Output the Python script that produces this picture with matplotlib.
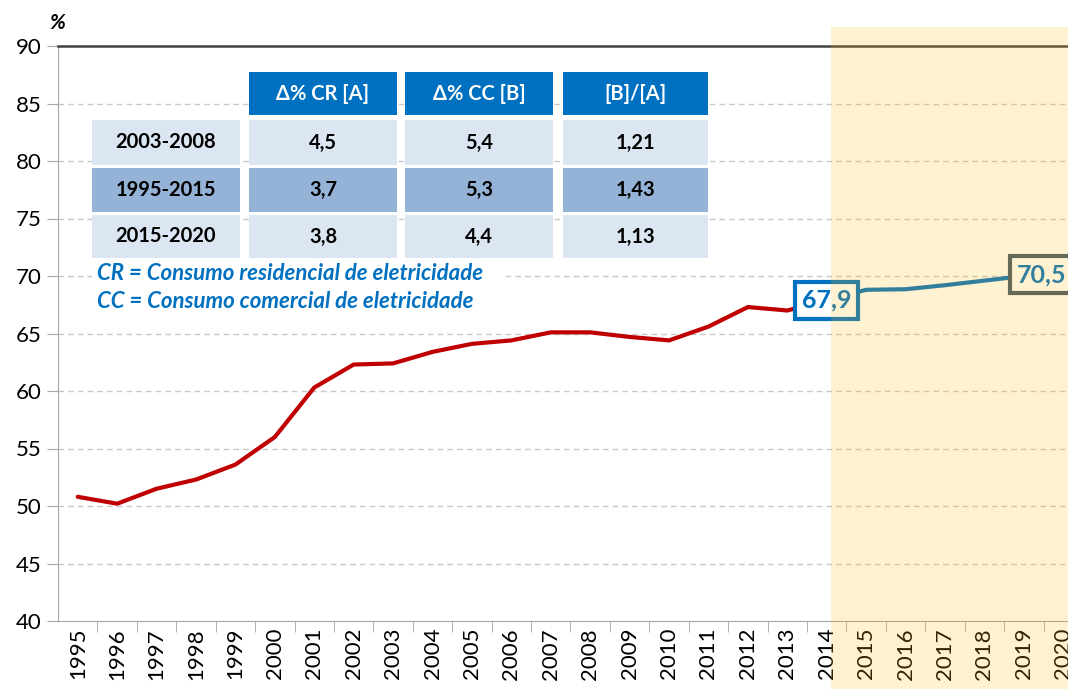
import numpy as np
import matplotlib
matplotlib.use('Agg')
import matplotlib.pyplot as plt
from matplotlib.patches import Rectangle

plt.rcParams['font.family'] = ['Lato', 'DejaVu Sans']

YEARS = [str(y) for y in range(1995, 2021)]
HIST = [50.8, 50.2, 51.5, 52.3, 53.6, 56.0, 60.3, 62.3, 62.4, 63.4, 64.1, 64.4,
        65.1, 65.1, 64.7, 64.4, 65.6, 67.3, 67.0, 67.9]          # 1995-2014
PROJ = [67.9, 68.8, 68.85, 69.2, 69.6, 70.0, 70.5]               # 2014-2020

TAB_HEAD = ['Δ% CR [A]', 'Δ% CC [B]', '[B]/[A]']
TAB_ROWS = ['2003-2008', '1995-2015', '2015-2020']
TAB_VALS = [['4,5', '5,4', '1,21'],
            ['3,7', '5,3', '1,43'],
            ['3,8', '4,4', '1,13']]
NOTES = ['CR = Consumo residencial de eletricidade',
         'CC = Consumo comercial de eletricidade']

W, H = 1068, 689
fig = plt.figure(figsize=(W / 100, H / 100), dpi=100, facecolor='white')
ax = fig.add_axes([58 / W, (H - 621) / H, (W - 58) / W, 575 / H])


def px(x, y):
    return x / W, 1 - y / H


def fmt(v):
    return f"{v:.1f}".replace('.', ',')


x_hist = np.arange(len(HIST))
x_proj = np.arange(len(HIST) - 1, len(HIST) - 1 + len(PROJ))

ax.plot(x_hist, HIST, color='#C00000', lw=3, zorder=3, solid_capstyle='round')
ax.plot(x_proj, PROJ, color='#0070C0', lw=3, zorder=3)

ax.set_yticks(np.arange(40, 91, 5))
ax.tick_params(axis='y', labelsize=16, length=8, color='#A6A6A6', pad=4)
ax.set_xticks(np.arange(len(YEARS)))
ax.set_xticklabels(YEARS, rotation=90)
ax.set_xticks(np.arange(len(YEARS)) + 0.5, minor=True)
ax.tick_params(axis='x', which='major', length=0, labelsize=16, pad=5)
ax.tick_params(axis='x', which='minor', length=8, color='#A6A6A6')
ax.set_xlim(-0.5, 25.12)
ax.set_ylim(40, 90)

for v in range(45, 90, 5):
    ax.axhline(v, color='#C8C8C8', lw=1, ls=(0, (4, 3)), zorder=1)

ax.spines['right'].set_visible(False)
ax.spines['left'].set_color('#A6A6A6')
ax.spines['bottom'].set_color('#A6A6A6')
ax.spines['top'].set_color('#404040')
ax.spines['top'].set_linewidth(1.8)

fig.text(*px(57, 23), '%', fontsize=15, fontweight='bold', style='italic',
         ha='center', va='center')

# value boxes
ax.text(x_hist[-1], HIST[-1], fmt(HIST[-1]),
        fontsize=18, fontweight='bold', color='#0070C0', ha='center', va='center', zorder=6,
        bbox=dict(boxstyle='square,pad=0.28', fc='white', ec='#0070C0', lw=3))
ax.text(24.45, PROJ[-1] - 0.4, fmt(PROJ[-1]),
        fontsize=18, fontweight='bold', color='#0070C0', ha='center', va='center', zorder=6,
        bbox=dict(boxstyle='square,pad=0.28', fc='white', ec='#3E5668', lw=3))

# table
col_x = [(92, 240), (249, 397), (405, 553), (563, 708)]
row_y = [(72, 115), (120, 165), (168, 212), (215, 258)]
row_fc = ['#DCE6F2', '#95B3D7', '#DCE6F2']


def cell(xr, yr, fc, txt, color):
    x0, y1 = px(xr[0], yr[1])
    x1, y0 = px(xr[1], yr[0])
    fig.add_artist(Rectangle((x0, y1), x1 - x0, y0 - y1, transform=fig.transFigure,
                             fc=fc, ec='none', zorder=4))
    fig.text((x0 + x1) / 2, (y0 + y1) / 2, txt, fontsize=14.5, fontweight='bold',
             color=color, ha='center', va='center', zorder=5)


for j, h in enumerate(TAB_HEAD):
    cell(col_x[j + 1], row_y[0], '#0070C0', h, 'white')
for i, lab in enumerate(TAB_ROWS):
    cell(col_x[0], row_y[i + 1], row_fc[i], lab, 'black')
    for j, v in enumerate(TAB_VALS[i]):
        cell(col_x[j + 1], row_y[i + 1], row_fc[i], v, 'black')

# notes
bx0, by1 = px(92, 316)
bx1, by0 = px(505, 262)
fig.add_artist(Rectangle((bx0, by1), bx1 - bx0, by0 - by1, transform=fig.transFigure,
                         fc='white', ec='none', zorder=4))
for k, note in enumerate(NOTES):
    fig.text(*px(97, 274 + 28 * k), note, fontsize=16, fontweight='bold', style='italic',
             color='#0070C0', ha='left', va='center', zorder=5)

# projection shading laid over
ax.axvspan(19.1, 26, ymin=-0.12, ymax=(621 - 27) / 575, color='#FFBE14', alpha=0.2,
           lw=0, zorder=10, clip_on=False)
ax.set_xlim(-0.5, 25.12)

fig.savefig('out.png', dpi=100, facecolor='white')
